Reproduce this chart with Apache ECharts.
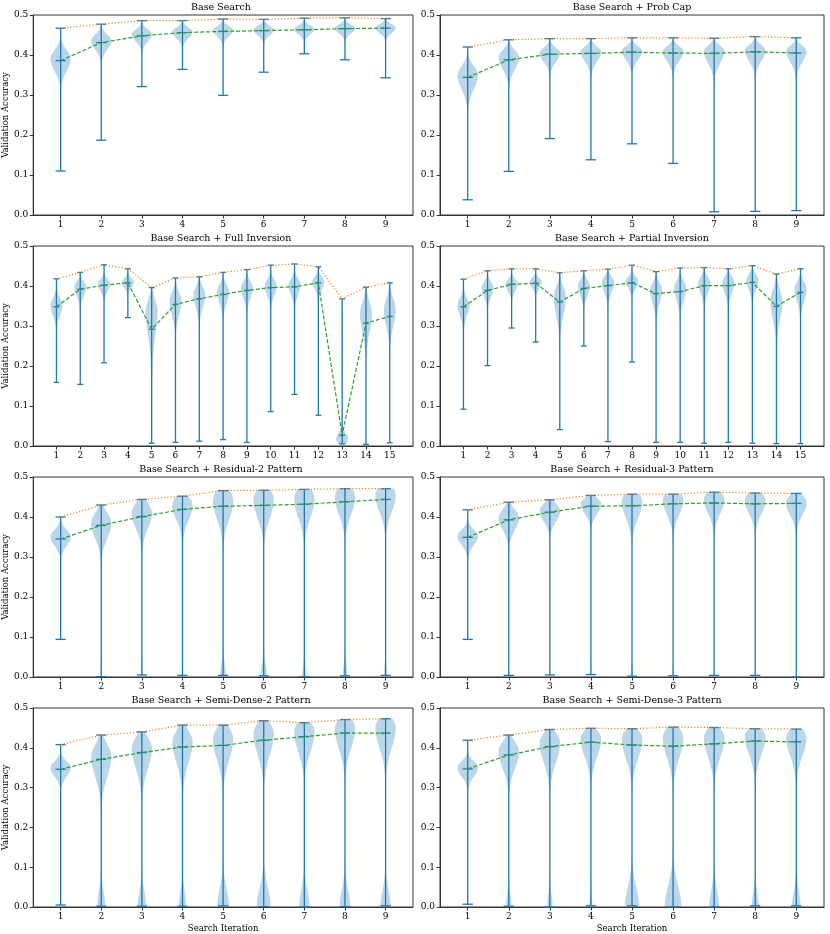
<!DOCTYPE html>
<html><head><meta charset="utf-8">
<script src="https://cdn.jsdelivr.net/npm/echarts@6/dist/echarts.min.js"></script>
<style>html,body{margin:0;padding:0;background:#fff}#c{width:830px;height:934px}</style>
</head><body><div id="c"></div>
<script>
const panelTitles = ['Base Search','Base Search + Prob Cap','Base Search + Full Inversion','Base Search + Partial Inversion',
  'Base Search + Residual-2 Pattern','Base Search + Residual-3 Pattern','Base Search + Semi-Dense-2 Pattern','Base Search + Semi-Dense-3 Pattern'];
const iterationCounts = [9,9,15,15,9,9,9,9];
const yTicks = [0,0.1,0.2,0.3,0.4,0.5];
const yLabel = 'Validation Accuracy';
const xLabel = 'Search Iteration';

const meanAcc = [
  [0.386,0.431,0.448,0.456,0.459,0.461,0.463,0.466,0.467],
  [0.344,0.388,0.402,0.404,0.407,0.405,0.404,0.408,0.405],
  [0.348,0.392,0.402,0.408,0.292,0.354,0.368,0.379,0.389,0.396,0.398,0.408,0.027,0.307,0.324],
  [0.348,0.389,0.404,0.407,0.360,0.394,0.401,0.408,0.381,0.386,0.401,0.401,0.409,0.349,0.384],
  [0.345,0.379,0.401,0.419,0.427,0.429,0.432,0.438,0.444],
  [0.349,0.393,0.412,0.427,0.428,0.433,0.435,0.433,0.434],
  [0.346,0.371,0.388,0.402,0.406,0.419,0.428,0.437,0.437],
  [0.347,0.382,0.403,0.414,0.407,0.404,0.410,0.417,0.415]
];
const maxAcc = [
  [0.467,0.477,0.486,0.486,0.490,0.489,0.492,0.493,0.491],
  [0.420,0.438,0.441,0.441,0.443,0.443,0.442,0.446,0.443],
  [0.418,0.434,0.453,0.443,0.396,0.420,0.423,0.434,0.441,0.452,0.455,0.448,0.368,0.397,0.408],
  [0.417,0.438,0.443,0.443,0.433,0.438,0.442,0.452,0.436,0.445,0.446,0.443,0.451,0.430,0.443],
  [0.400,0.430,0.444,0.452,0.466,0.467,0.469,0.471,0.471],
  [0.418,0.437,0.443,0.454,0.457,0.457,0.462,0.460,0.459],
  [0.408,0.432,0.440,0.457,0.457,0.468,0.463,0.471,0.473],
  [0.419,0.432,0.446,0.449,0.448,0.452,0.451,0.448,0.447]
];
const minAcc = [
  [0.110,0.187,0.321,0.364,0.299,0.357,0.403,0.388,0.343],
  [0.038,0.109,0.191,0.138,0.178,0.129,0.008,0.009,0.011],
  [0.159,0.154,0.208,0.321,0.007,0.009,0.012,0.016,0.009,0.086,0.129,0.077,0.005,0.004,0.008],
  [0.092,0.201,0.295,0.260,0.041,0.250,0.011,0.210,0.009,0.009,0.007,0.009,0.007,0.006,0.006],
  [0.094,0.001,0.005,0.004,0.004,0.003,0.001,0.003,0.004],
  [0.094,0.004,0.005,0.006,0.002,0.003,0.004,0.004,0.000],
  [0.005,0.002,0.002,0.002,0.003,0.001,0.000,0.001,0.003],
  [0.007,0.002,0.000,0.003,0.003,0.000,0.000,0.003,0.003]
];
// densest accuracy of each violin and its spread above / below it
const modeAcc = [
  [0.390,0.436,0.452,0.458,0.462,0.463,0.465,0.467,0.468],
  [0.350,0.395,0.405,0.408,0.410,0.409,0.410,0.412,0.410],
  [0.352,0.397,0.405,0.410,0.335,0.362,0.377,0.386,0.395,0.400,0.402,0.412,0.018,0.330,0.340],
  [0.352,0.395,0.405,0.410,0.372,0.400,0.410,0.412,0.390,0.395,0.408,0.408,0.415,0.362,0.392],
  [0.350,0.385,0.410,0.428,0.440,0.442,0.444,0.448,0.452],
  [0.352,0.398,0.415,0.432,0.438,0.442,0.443,0.440,0.435],
  [0.350,0.378,0.398,0.415,0.422,0.435,0.440,0.448,0.450],
  [0.350,0.390,0.412,0.422,0.422,0.425,0.425,0.428,0.425]
];
const spreadUp = [
  [0.022,0.015,0.012,0.011,0.010,0.010,0.009,0.009,0.009],
  [0.022,0.017,0.013,0.013,0.012,0.013,0.013,0.013,0.013],
  [0.018,0.014,0.012,0.010,0.030,0.022,0.020,0.018,0.016,0.016,0.016,0.012,0.015,0.030,0.028],
  [0.018,0.015,0.012,0.010,0.025,0.015,0.014,0.012,0.018,0.018,0.015,0.015,0.014,0.028,0.018],
  [0.018,0.025,0.025,0.025,0.030,0.030,0.030,0.028,0.028],
  [0.016,0.020,0.018,0.016,0.025,0.022,0.022,0.022,0.020],
  [0.016,0.030,0.028,0.028,0.028,0.028,0.026,0.026,0.026],
  [0.016,0.025,0.025,0.022,0.024,0.024,0.024,0.022,0.022]
];
const spreadDown = [
  [0.030,0.022,0.018,0.016,0.015,0.014,0.013,0.013,0.013],
  [0.035,0.030,0.022,0.024,0.022,0.024,0.030,0.027,0.027],
  [0.025,0.022,0.018,0.014,0.055,0.035,0.030,0.028,0.026,0.024,0.024,0.020,0.015,0.045,0.040],
  [0.026,0.022,0.018,0.015,0.045,0.024,0.026,0.018,0.032,0.030,0.026,0.026,0.024,0.045,0.030],
  [0.022,0.038,0.038,0.036,0.045,0.045,0.045,0.042,0.040],
  [0.022,0.030,0.026,0.024,0.040,0.036,0.034,0.032,0.030],
  [0.022,0.050,0.050,0.052,0.052,0.052,0.050,0.050,0.050],
  [0.022,0.042,0.048,0.045,0.048,0.050,0.048,0.045,0.045]
];
// secondary cluster of each violin: [centre, spread, relative density] (null = none)
const extraMode = [
  [null,null,null,null,null,null,null,null,null],
  [null,null,null,null,null,null,null,null,null],
  [null,null,null,null,[0.20,0.06,0.12],null,null,null,null,null,null,null,[0.25,0.08,0.12],null,null],
  [null,null,null,null,null,null,null,null,null,null,null,null,null,null,null],
  [null,[0,0.03,0.06],[0,0.03,0.10],[0,0.03,0.07],[0,0.03,0.30],[0,0.03,0.32],[0,0.03,0.20],[0,0.03,0.22],[0,0.03,0.14]],
  [null,[0,0.02,0.05],[0,0.02,0.05],[0,0.02,0.05],[0,0.025,0.12],[0,0.02,0.05],null,null,null],
  [null,[0,0.038,0.40],[0,0.038,0.42],[0,0.038,0.36],[0,0.045,0.58],[0,0.048,0.68],[0,0.042,0.50],[0,0.042,0.52],[0,0.042,0.50]],
  [null,[0,0.032,0.26],[0,0.032,0.26],[0,0.03,0.14],[0,0.048,0.70],[0,0.052,0.82],[0,0.042,0.47],[0,0.036,0.34],[0,0.038,0.42]]
];

const FONT = 'DejaVu Serif';
const BLUE = '#1f77b4';
const rowTops = [15, 246, 477, 708];
const colLefts = [29, 440];
const gridW = 384, gridH = 200;

function positions(k){ const a=[]; for(let i=1;i<=iterationCounts[k];i++) a.push(i); return a; }

function makeRender(k){
  return function(params, api){
    const i = params.dataIndex;
    const pos = api.value(0);
    const lo = minAcc[k][i], hi = maxAcc[k][i];
    const m = modeAcc[k][i], su = spreadUp[k][i], sd = spreadDown[k][i];
    const ex = extraMode[k][i];
    const N = 120;
    const ys = [], ds = [];
    let dmax = 0;
    for (let j=0;j<=N;j++){
      const y = lo + (hi-lo)*j/N;
      const s = y >= m ? su : sd;
      let d = Math.exp(-0.5*Math.pow((y-m)/s,2));
      if (ex) d += ex[2]*Math.exp(-0.5*Math.pow((y-ex[0])/ex[1],2));
      ys.push(y); ds.push(d); if (d>dmax) dmax=d;
    }
    const right=[], left=[];
    for (let j=0;j<=N;j++){
      const w = 0.25*ds[j]/dmax;
      right.push(api.coord([pos+w, ys[j]]));
      left.push(api.coord([pos-w, ys[j]]));
    }
    const pts = right.concat(left.reverse());
    const line = (x1,y1,x2,y2) => {
      const a = api.coord([x1,y1]), b = api.coord([x2,y2]);
      return {type:'line', shape:{x1:a[0],y1:a[1],x2:b[0],y2:b[1]}, style:{stroke:BLUE, lineWidth:1.3}};
    };
    const cw = 0.125;
    return {type:'group', children:[
      {type:'polygon', shape:{points:pts}, style:{fill:BLUE, opacity:0.3, stroke:null}},
      line(pos, lo, pos, hi),
      line(pos-cw, lo, pos+cw, lo),
      line(pos-cw, hi, pos+cw, hi),
      line(pos-cw, meanAcc[k][i], pos+cw, meanAcc[k][i])
    ]};
  };
}

const grids=[], xAxes=[], yAxes=[], titles=[], series=[];
for (let k=0;k<8;k++){
  const row = Math.floor(k/2), col = k%2;
  const n = iterationCounts[k];
  const pad = 0.25 + 0.05*(n-1+0.5);
  grids.push({left:colLefts[col], top:rowTops[row], width:gridW, height:gridH,
    show:true, borderColor:'#333', borderWidth:1, backgroundColor:'transparent', containLabel:false});
  const ticks = positions(k);
  xAxes.push({type:'value', gridIndex:k, min:1-pad, max:n+pad,
    axisLine:{show:true, lineStyle:{color:'#333', width:1}},
    axisTick:{show:true, length:3.5, customValues:ticks, lineStyle:{color:'#333'}},
    axisLabel:{show:true, customValues:ticks, fontFamily:FONT, fontSize:9, color:'#000', margin:5},
    splitLine:{show:false},
    name: row===3 ? xLabel : '', nameLocation:'middle', nameGap:17,
    nameTextStyle:{fontFamily:FONT, fontSize:8.5, color:'#000'}});
  yAxes.push({type:'value', gridIndex:k, min:yTicks[0], max:yTicks[yTicks.length-1], interval:0.1,
    axisLine:{show:true, lineStyle:{color:'#333', width:1}},
    axisTick:{show:true, length:3.5, lineStyle:{color:'#333'}},
    axisLabel:{fontFamily:FONT, fontSize:9, color:'#000', margin:5, formatter:v=>v.toFixed(1)},
    splitLine:{show:false},
    name: col===0 ? yLabel : '', nameLocation:'middle', nameGap:21,
    nameTextStyle:{fontFamily:FONT, fontSize:8.5, color:'#000'}});
  titles.push({text:panelTitles[k], left:colLefts[col]+gridW/2, top:rowTops[row]-12.5, textAlign:'center', padding:0,
    textStyle:{fontFamily:FONT, fontSize:9.5, fontWeight:'normal', color:'#000'}});
  series.push({type:'custom', xAxisIndex:k, yAxisIndex:k, renderItem:makeRender(k), clip:false, z:2,
    data: ticks.map((p,i)=>[p, meanAcc[k][i]])});
  series.push({type:'line', xAxisIndex:k, yAxisIndex:k, symbol:'none', z:4,
    lineStyle:{color:'#2ca02c', type:[4,2], width:1.2},
    data: ticks.map((p,i)=>[p, meanAcc[k][i]])});
  series.push({type:'line', xAxisIndex:k, yAxisIndex:k, symbol:'none', z:4,
    lineStyle:{color:'#ff7f0e', type:[1.2,2], width:1.2},
    data: ticks.map((p,i)=>[p, maxAcc[k][i]])});
}

const chart = echarts.init(document.getElementById('c'), null, {renderer:'canvas'});
chart.setOption({animation:false, backgroundColor:'#fff', title:titles, grid:grids, xAxis:xAxes, yAxis:yAxes, series:series});
</script>
</body></html>
